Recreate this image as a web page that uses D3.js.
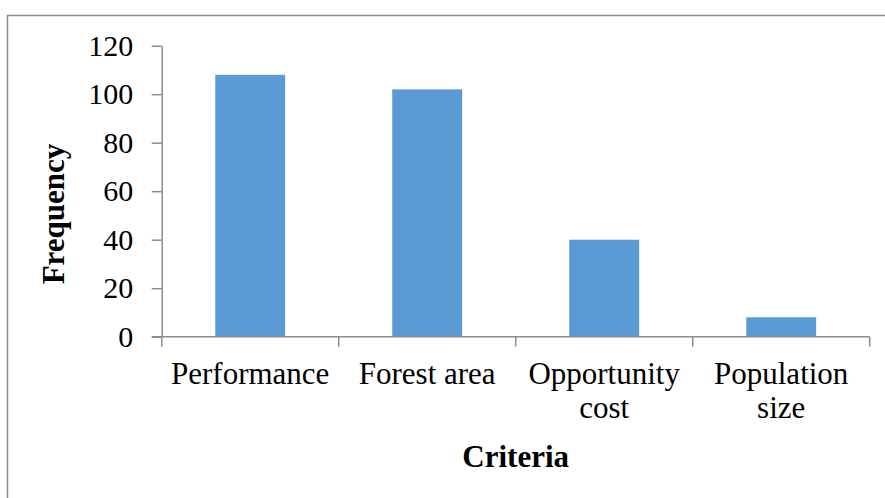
<!DOCTYPE html>
<html>
<head>
<meta charset="utf-8">
<script src="https://cdn.jsdelivr.net/npm/d3@7"></script>
<style>
  html, body { margin: 0; padding: 0; background: #fff; }
  svg { display: block; }
  text { font-family: "Liberation Serif", "Times New Roman", serif; fill: #000; }
</style>
</head>
<body>
<svg id="chart" width="885" height="498"></svg>
<script>
// Frequency of each selection criterion
const categories = ["Performance", "Forest area", "Opportunity cost", "Population size"];
const categoryLines = [["Performance"], ["Forest area"], ["Opportunity", "cost"], ["Population", "size"]];
const frequency = [108, 102, 40, 8];
const yTicks = [0, 20, 40, 60, 80, 100, 120];

const svg = d3.select("#chart");
const W = 885, H = 498;
const plot = { left: 161.7, right: 869.7, top: 45.7, bottom: 336.7 };
const axisColor = "#8c8c8c";
const serif = "'Liberation Serif', 'Times New Roman', serif";

// chart area frame
svg.append("rect")
  .attr("x", 7.5).attr("y", 15.5)
  .attr("width", W + 20).attr("height", H + 20)
  .attr("fill", "#fff")
  .attr("stroke", axisColor).attr("stroke-width", 1.5);

const x = d3.scaleBand()
  .domain(categories)
  .range([plot.left, plot.right])
  .paddingInner(0.605)
  .paddingOuter(0.3025);

const y = d3.scaleLinear()
  .domain([0, 120])
  .range([plot.bottom, plot.top]);

// bars
svg.append("g").selectAll("rect")
  .data(categories)
  .join("rect")
  .attr("x", d => x(d))
  .attr("width", x.bandwidth())
  .attr("y", (d, i) => y(frequency[i]))
  .attr("height", (d, i) => y(0) - y(frequency[i]))
  .attr("fill", "#5b9bd5");

// y axis
const yAxis = svg.append("g")
  .attr("transform", `translate(${plot.left},0)`)
  .call(d3.axisLeft(y).tickValues(yTicks).tickSize(10).tickPadding(18.5).tickSizeOuter(0));
yAxis.attr("font-family", serif);
yAxis.select(".domain").attr("stroke", axisColor).attr("stroke-width", 1.5);
yAxis.selectAll(".tick line").attr("stroke", axisColor).attr("stroke-width", 1.5);
yAxis.selectAll(".tick text")
  .attr("font-family", serif)
  .attr("font-size", 30)
  .attr("fill", "#000");

// x axis: baseline with tick marks between categories
const boundaries = categories.map(c => x(c) - x.step() * x.paddingOuter()).concat([plot.right]);
const xAxis = svg.append("g");
xAxis.append("line")
  .attr("x1", plot.left - 10).attr("x2", plot.right)
  .attr("y1", y(0)).attr("y2", y(0))
  .attr("stroke", axisColor).attr("stroke-width", 1.5);
xAxis.selectAll("line.tick")
  .data(boundaries)
  .join("line")
  .attr("class", "tick")
  .attr("x1", d => d).attr("x2", d => d)
  .attr("y1", y(0)).attr("y2", y(0) + 10)
  .attr("stroke", axisColor).attr("stroke-width", 1.5);

// category labels
const labels = svg.append("g")
  .selectAll("text")
  .data(categories)
  .join("text")
  .attr("text-anchor", "middle")
  .attr("font-family", serif)
  .attr("font-size", 31)
  .attr("x", d => x(d) + x.bandwidth() / 2)
  .attr("y", 384);
labels.selectAll("tspan")
  .data((d, i) => categoryLines[i])
  .join("tspan")
  .attr("x", function () { return d3.select(this.parentNode).attr("x"); })
  .attr("dy", (d, i) => i === 0 ? 0 : 34)
  .text(d => d);

// axis titles
svg.append("text")
  .attr("x", (plot.left + plot.right) / 2)
  .attr("y", 467)
  .attr("text-anchor", "middle")
  .attr("font-family", serif)
  .attr("font-size", 31)
  .attr("font-weight", "bold")
  .text("Criteria");

svg.append("text")
  .attr("transform", "translate(64,214) rotate(-90)")
  .attr("text-anchor", "middle")
  .attr("font-family", serif)
  .attr("font-size", 31)
  .attr("font-weight", "bold")
  .text("Frequency");
</script>
</body>
</html>
